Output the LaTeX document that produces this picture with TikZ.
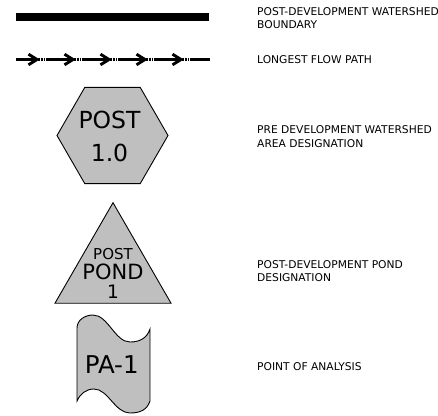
\documentclass[tikz,border=0pt]{standalone}
\usepackage{fontspec}
\setmainfont{DejaVu Sans}
\usetikzlibrary{shapes.geometric,decorations.markings}
\definecolor{symfill}{RGB}{191,191,191}
\begin{document}
\begin{tikzpicture}[x=1pt,y=-1pt,
  legtext/.style={anchor=west, inner sep=0pt, align=left, font=\fontsize{10.7}{13.5}\selectfont},
  symshape/.style={draw=black, fill=symfill, line width=0.9pt, inner sep=0pt},
  bigtext/.style={inner sep=0pt, align=center},
  boundary/.style={line width=8.5pt, line cap=butt},
  flowline/.style={line width=2.8pt, line cap=butt,
    dash pattern=on 21pt off 9pt on 27pt off 9pt on 27pt off 9pt on 27pt off 9pt on 27pt off 9pt on 60pt},
  chev/.style={solid, line width=2.9pt, line join=miter},
  dotseg/.style={line width=2.2pt, dash pattern=on 1.8pt off 0.9pt},
  flowmarks/.style={decoration={markings,
    mark=between positions 21pt and 170pt step 36pt with {
      \draw[chev] (-8.5pt,-5.3pt) -- (0pt,0pt) -- (-8.5pt,5.3pt);
      \draw[dotseg] (1.2pt,0pt) -- (9pt,0pt);
    }}, postaction={decorate}}
]
\useasboundingbox (0,0) rectangle (438,415);

% boundary line
\coordinate (ba) at (16,17.2);
\coordinate (bb) at (209,17.2);
\draw[boundary] (ba) -- (bb);
\node[legtext] (t1) at (257,18) {POST-DEVELOPMENT WATERSHED\\BOUNDARY};

% longest flow path
\coordinate (fa) at (16,59.5);
\coordinate (fb) at (210,59.5);
\draw[flowline, flowmarks] (fa) -- (fb);
\node[legtext] (t2) at (257,59.5) {LONGEST FLOW PATH};

% hexagon
\node[symshape, regular polygon, regular polygon sides=6, minimum size=111pt] (hex) at (112.5,135.5) {};
\node[bigtext, font=\fontsize{23.5}{32.7}\selectfont] (hext) at (109.5,136.2) {POST\\1.0};
\node[legtext] (t3) at (257,136.7) {PRE DEVELOPMENT WATERSHED\\AREA DESIGNATION};

% triangle
\node[symshape, regular polygon, regular polygon sides=3, minimum size=134pt] (tri) at (113,269.7) {};
\node[bigtext, font=\fontsize{15}{15}\selectfont] (trp) at (113,253.7) {POST};
\node[bigtext, font=\fontsize{21}{21}\selectfont] (trd) at (113,272.3) {POND};
\node[bigtext, font=\fontsize{18.5}{18.5}\selectfont] (tro) at (113,291.7) {1};
\node[legtext] (t4) at (257,271) {POST-DEVELOPMENT POND\\DESIGNATION};

% point of analysis
\draw[symshape] (77,401) -- (77,328)
  .. controls (77,320) and (85,315) .. (93,315)
  .. controls (108,315) and (115,342) .. (130,342)
  .. controls (140,342) and (147,338) .. (150,329)
  -- (150,401)
  .. controls (147,410) and (140,413) .. (130,413)
  .. controls (115,413) and (108,389) .. (94,389)
  .. controls (86,389) and (80,394) .. (77,401) -- cycle;
\node[bigtext, font=\fontsize{24.5}{24.5}\selectfont] (pa) at (111.7,364.2) {PA-1};
\node[legtext] (t5) at (257,366.7) {POINT OF ANALYSIS};
\end{tikzpicture}
\end{document}
